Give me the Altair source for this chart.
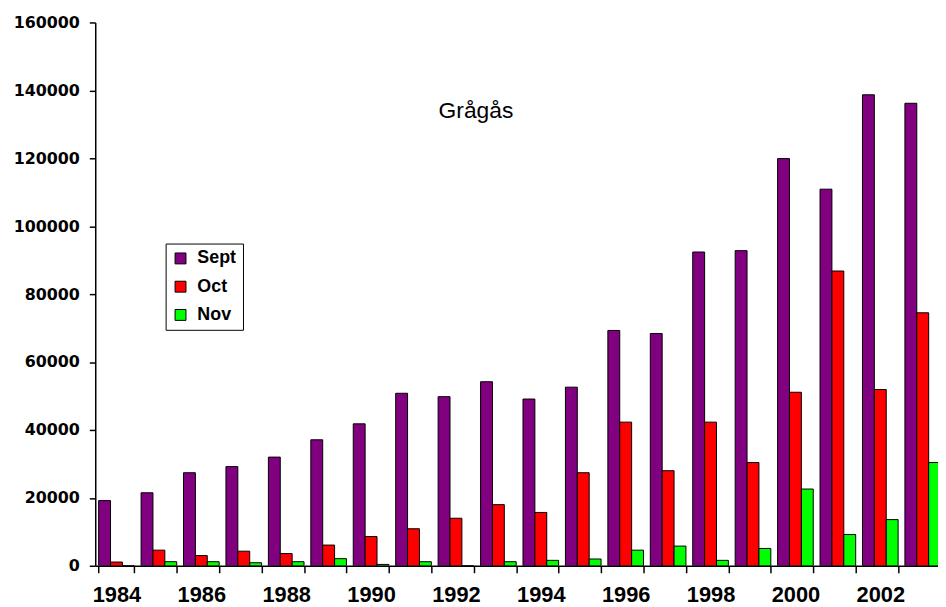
import altair as alt
import pandas as pd

years = [str(y) for y in range(1984, 2004)]
sept = [19200, 21500, 27400, 29200, 32000, 37100, 41800, 50800, 49800, 54200,
        49100, 52600, 69300, 68400, 92400, 92800, 119900, 110900, 138700, 136200]
octo = [1100, 4600, 3000, 4300, 3600, 6100, 8600, 10900, 14000, 18000,
        15700, 27400, 42300, 28000, 42300, 30400, 51100, 86800, 51900, 74500]
nov = [0, 1200, 1200, 900, 1200, 2100, 400, 1200, 0, 1200,
       1600, 2000, 4600, 5800, 1600, 5100, 22600, 9200, 13600, 30400]
series = ["Sept", "Oct", "Nov"]
colors = ["#800080", "#FF0000", "#00FF00"]
y_ticks = list(range(0, 160001, 20000))
title_text = "Grågås"

rows = []
for name, vals in zip(series, [sept, octo, nov]):
    for yr, v in zip(years, vals):
        rows.append({"Year": yr, "Month": name, "Count": v})
df = pd.DataFrame(rows)

W = 856
H = 548

bars = alt.Chart(df).mark_bar(stroke="black", strokeWidth=1, clip=True).encode(
    x=alt.X("Year:N", sort=years,
            scale=alt.Scale(paddingInner=0.16, paddingOuter=0.08),
            axis=alt.Axis(title=None, labelAngle=0, tickBand="extent",
                          labelExpr="toNumber(datum.value) % 2 == 0 ? datum.label : ''",
                          labelFont="Liberation Sans Narrow, Liberation Sans",
                          labelFontWeight="bold",
                          labelFontSize=22, labelColor="black", labelPadding=12,
                          tickSize=7, tickColor="black", tickWidth=1.5,
                          domainColor="black", domainWidth=1.5, grid=False)),
    xOffset=alt.XOffset("Month:N", sort=series,
                        scale=alt.Scale(paddingInner=0, paddingOuter=0)),
    y=alt.Y("Count:Q",
            scale=alt.Scale(domain=[0, 160000], nice=False),
            axis=alt.Axis(title=None, values=y_ticks, format="d",
                          labelFont="DejaVu Sans", labelFontWeight="bold",
                          labelFontSize=16, labelColor="black", labelPadding=10,
                          tickSize=6, tickColor="black", tickWidth=1.5,
                          domainColor="black", domainWidth=1.5, grid=False)),
    color=alt.Color("Month:N", sort=series,
                    scale=alt.Scale(domain=series, range=colors),
                    legend=alt.Legend(orient="none", legendX=71, legendY=223,
                                      title=None, strokeColor="black", fillColor="white",
                                      padding=6, symbolType="square", symbolSize=121,
                                      symbolStrokeColor="black", symbolStrokeWidth=1,
                                      labelFont="Liberation Sans", labelFontWeight="bold",
                                      labelFontSize=18, labelColor="black",
                                      labelOffset=8, rowPadding=10.5)),
)

title_df = pd.DataFrame({"t": [title_text]})
title = alt.Chart(title_df).mark_text(
    font="Liberation Sans", fontSize=23, color="black", align="center",
    baseline="alphabetic"
).encode(text="t:N", x=alt.value(384), y=alt.value(96))

chart = alt.layer(bars, title).properties(
    width=W, height=H,
    autosize=alt.AutoSizeParams(type="none"),
    padding={"left": 88, "top": 12, "right": -6, "bottom": 39},
).configure_view(stroke=None)

chart.save("out.html", embed_options={"renderer": "svg", "actions": False})
